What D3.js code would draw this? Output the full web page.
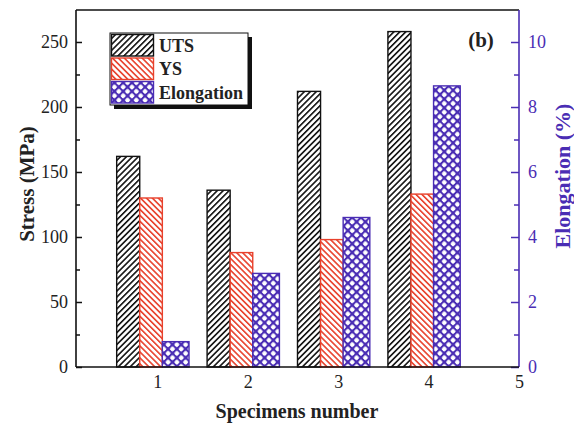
<!DOCTYPE html>
<html>
<head>
<meta charset="utf-8">
<script src="https://cdn.jsdelivr.net/npm/d3@7"></script>
<style>
  body { margin: 0; background: #fff; }
  svg text { font-family: "Liberation Serif", "Times New Roman", serif !important; }
</style>
</head>
<body>
<div id="chart"></div>
<script>
// data
const specimens = [1, 2, 3, 4];
const uts = [162, 136, 212, 258];
const ys = [130, 88, 98, 133];
const elongation = [0.78, 2.88, 4.6, 8.65];
const stressTicks = [0, 50, 100, 150, 200, 250];
const elongTicks = [0, 2, 4, 6, 8, 10];
const xTicks = [1, 2, 3, 4, 5];
const legendNames = ["UTS", "YS", "Elongation"];

const width = 574, height = 425;
const margin = {top: 10, right: 55, bottom: 58, left: 76};
const innerW = width - margin.left - margin.right;
const innerH = height - margin.top - margin.bottom;

const black = "#111", red = "#e8412c", purple = "#4a2db4";

const svg = d3.select("#chart").append("svg")
    .attr("width", width)
    .attr("height", height);

// hatch patterns
const defs = svg.append("defs");
let p1 = defs.append("pattern").attr("id", "hUTS")
    .attr("patternUnits", "userSpaceOnUse").attr("width", 4.2).attr("height", 4.2)
    .attr("patternTransform", "rotate(45)");
p1.append("rect").attr("width", 4.2).attr("height", 4.2).attr("fill", "#fff");
p1.append("rect").attr("width", 1.6).attr("height", 4.2).attr("fill", black);

let p2 = defs.append("pattern").attr("id", "hYS")
    .attr("patternUnits", "userSpaceOnUse").attr("width", 4.2).attr("height", 4.2)
    .attr("patternTransform", "rotate(-45)");
p2.append("rect").attr("width", 4.2).attr("height", 4.2).attr("fill", "#fff");
p2.append("rect").attr("width", 1.6).attr("height", 4.2).attr("fill", red);

let p3 = defs.append("pattern").attr("id", "hEl")
    .attr("patternUnits", "userSpaceOnUse").attr("width", 6.2).attr("height", 6.2)
    .attr("patternTransform", "rotate(45)");
p3.append("rect").attr("width", 6.2).attr("height", 6.2).attr("fill", purple);
p3.append("rect").attr("x", 2).attr("y", 2).attr("width", 4.2).attr("height", 4.2)
    .attr("rx", 1).attr("fill", "#fff");

const g = svg.append("g")
    .attr("transform", `translate(${margin.left}, ${margin.top})`);

// scales
let x = d3.scaleLinear().domain([0.1, 5]).range([0, innerW]);
let yL = d3.scaleLinear().domain([0, 274.6]).range([innerH, 0]);
let yR = d3.scaleLinear().domain([0, 10.985]).range([innerH, 0]);

// bars: offsets in x units relative to the tick
const series = [
    {vals: uts, scale: yL, x0: -0.45, x1: -0.195, fill: "url(#hUTS)", stroke: black},
    {vals: ys, scale: yL, x0: -0.195, x1: 0.055, fill: "url(#hYS)", stroke: red},
    {vals: elongation, scale: yR, x0: 0.055, x1: 0.35, fill: "url(#hEl)", stroke: purple}
];
series.forEach(s => {
    g.append("g").selectAll("rect").data(specimens)
        .enter().append("rect")
        .attr("x", (d) => x(d + s.x0))
        .attr("width", (d) => x(d + s.x1) - x(d + s.x0))
        .attr("y", (d, i) => s.scale(s.vals[i]))
        .attr("height", (d, i) => innerH - s.scale(s.vals[i]))
        .attr("fill", s.fill)
        .attr("stroke", s.stroke)
        .attr("stroke-width", 1.4);
});

// frame
g.append("line").attr("x1", 0).attr("x2", innerW).attr("y1", 0).attr("y2", 0)
    .attr("stroke", black).attr("stroke-width", 1.6);

// left axis
let axL = g.append("g").call(d3.axisLeft(yL).tickValues(stressTicks).tickSize(-6).tickPadding(8));
axL.append("g").call(d3.axisLeft(yL).tickValues(d3.range(25, 275, 50)).tickSize(-4).tickFormat(""));
axL.selectAll(".domain").remove();
axL.selectAll("line").attr("stroke", black).attr("stroke-width", 1.5);
axL.selectAll("text").attr("fill", "#222").style("font-size", "18px");
g.append("line").attr("x1", 0).attr("x2", 0).attr("y1", 0).attr("y2", innerH)
    .attr("stroke", black).attr("stroke-width", 1.6);

// right axis
let axR = g.append("g").attr("transform", `translate(${innerW}, 0)`)
    .call(d3.axisRight(yR).tickValues(elongTicks).tickSize(-8).tickPadding(9));
axR.append("g").call(d3.axisRight(yR).tickValues([1, 3, 5, 7, 9]).tickSize(-5).tickFormat(""));
axR.selectAll(".domain").remove();
axR.selectAll("line").attr("stroke", purple).attr("stroke-width", 1.5);
axR.selectAll("text").attr("fill", purple).style("font-size", "18px");
g.append("line").attr("x1", innerW).attr("x2", innerW).attr("y1", 0).attr("y2", innerH)
    .attr("stroke", purple).attr("stroke-width", 1.6);

// bottom axis
let axB = g.append("g").attr("transform", `translate(0, ${innerH})`)
    .call(d3.axisBottom(x).tickValues(xTicks).tickSize(0).tickPadding(8).tickFormat(d3.format("d")));
axB.selectAll(".domain").remove();
axB.selectAll("text").attr("fill", "#222").style("font-size", "18px");
g.append("line").attr("x1", 0).attr("x2", innerW).attr("y1", innerH).attr("y2", innerH)
    .attr("stroke", black).attr("stroke-width", 1.6);

// axis titles
svg.append("text")
    .attr("transform", `translate(34, 184) rotate(-90)`)
    .style("text-anchor", "middle")
    .style("font-size", "21px").style("font-weight", "bold")
    .attr("fill", "#222")
    .text("Stress (MPa)");

svg.append("text")
    .attr("transform", `translate(570, 176) rotate(-90)`)
    .style("text-anchor", "middle")
    .style("font-size", "22px").style("font-weight", "bold")
    .attr("fill", purple)
    .text("Elongation (%)");

svg.append("text")
    .attr("x", 297)
    .attr("y", 418)
    .style("text-anchor", "middle")
    .style("font-size", "20px").style("font-weight", "bold")
    .attr("fill", "#222")
    .text("Specimens number");

svg.append("text")
    .attr("x", 481).attr("y", 47)
    .style("text-anchor", "middle")
    .style("font-size", "21px").style("font-weight", "bold")
    .attr("fill", "#222")
    .text("(b)");

// legend
const leg = svg.append("g").attr("transform", "translate(110, 33)");
leg.append("rect").attr("x", 4).attr("y", 4).attr("width", 138).attr("height", 72).attr("fill", black);
leg.append("rect").attr("width", 138).attr("height", 72)
    .attr("fill", "#fff").attr("stroke", black).attr("stroke-width", 1);
legendNames.forEach((name, i) => {
    leg.append("rect")
        .attr("x", 1.5).attr("y", 1.5 + i * 23.5)
        .attr("width", 42).attr("height", 21.5)
        .attr("fill", series[i].fill)
        .attr("stroke", series[i].stroke).attr("stroke-width", 1.4);
    leg.append("text")
        .attr("x", 49).attr("y", 18.5 + i * 23.5)
        .style("font-size", "18px").style("font-weight", "bold")
        .attr("fill", "#222")
        .text(name);
});
</script>
</body>
</html>
